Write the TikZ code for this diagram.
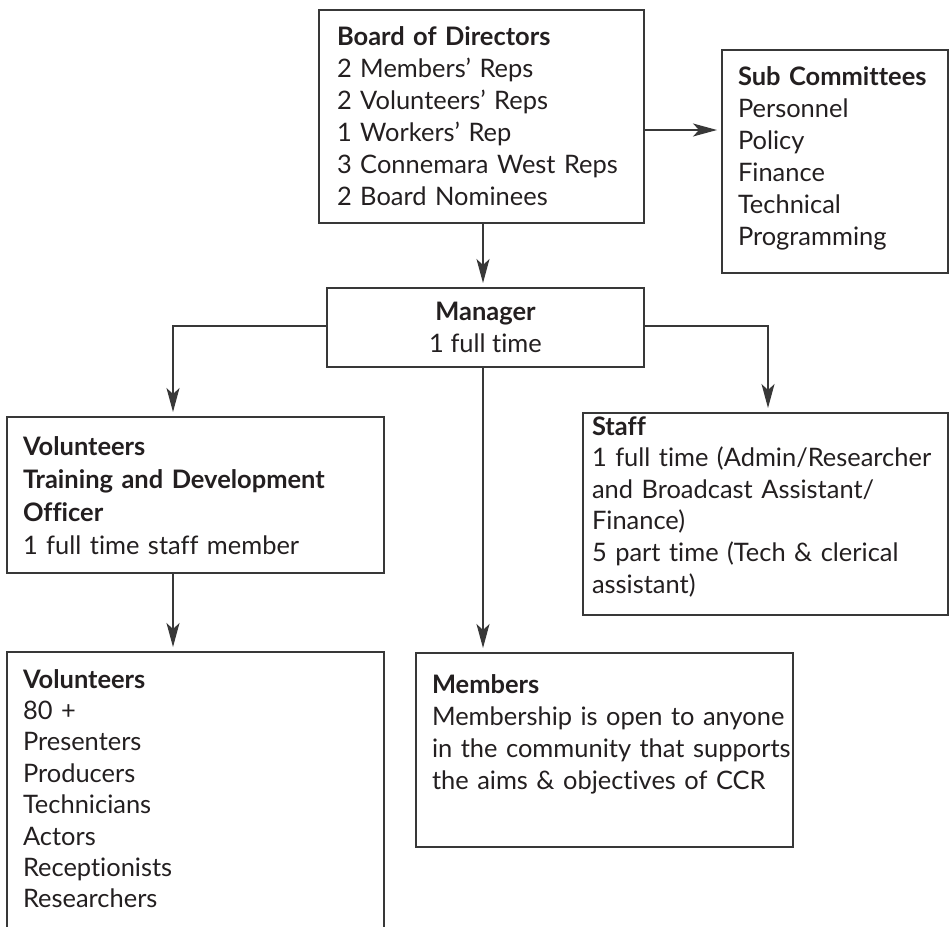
\documentclass[tikz,border=0pt]{standalone}
\usepackage{fontspec}
\setmainfont{Lato}[Ligatures=NoCommon]
\usetikzlibrary{arrows.meta}
\definecolor{linec}{HTML}{383838}
\definecolor{textc}{HTML}{231F20}
\newcommand{\firststrut}{\rule{0pt}{20pt}}
\newlength\reflen
\begin{document}
\settowidth\reflen{\fontsize{10pt}{12pt}\selectfont 3 Connemara West Reps}
\pgfmathsetmacro\fsz{10*275/\reflen}
\begin{tikzpicture}[x=1pt,y=-1pt,
  box/.style={draw=linec, line width=1.4pt, inner sep=0pt, outer sep=0pt, anchor=north west},
  txt/.style={anchor=north west, inner sep=0pt, outer sep=0pt, align=left, text width=420pt,
    text=textc, font=\fontsize{\fsz pt}{#1}\selectfont},
  txt/.default=32pt,
  conn/.style={draw=linec, line width=1.3pt},
  arr/.style={conn, shorten >=5pt, -{Stealth[length=24pt,width=13pt,inset=6pt]}}]
\clip (0,0) rectangle (949,926);
% boxes
\node[box, minimum width=325pt, minimum height=213pt] (board) at (319,10) {};
\node[box, minimum width=226pt, minimum height=223pt] (sub) at (722,50) {};
\node[box, minimum width=317pt, minimum height=79pt] (manager) at (327,288) {};
\node[box, minimum width=377pt, minimum height=156pt] (td) at (7,417) {};
\node[box, minimum width=365pt, minimum height=202pt] (staff) at (583,413) {};
\node[box, minimum width=377pt, minimum height=300pt] (vol) at (7,652) {};
\node[box, minimum width=377pt, minimum height=194pt] (members) at (416,653) {};
% texts
\node[txt] (boardt) at (337,25) {\firststrut\textbf{Board of Directors}\\
2 Members’ Reps\\2 Volunteers’ Reps\\1 Workers’ Rep\\3 Connemara West Reps\\2 Board Nominees};
\node[txt] (subt) at (738,65) {\firststrut\textbf{Sub Committees}\\
Personnel\\Policy\\Finance\\Technical\\Programming};
\node[anchor=north, inner sep=0pt, align=center, text=textc, font=\fontsize{\fsz pt}{32pt}\selectfont]
  (managert) at (485.5,300) {\firststrut\textbf{Manager}\\1 full time};
\node[txt=33pt] (tdt) at (23,435) {\firststrut\textbf{Volunteers}\\
\textbf{Training and Development}\\\textbf{Officer}\\1 full time staff member};
\node[txt=31.6pt] (stafft) at (592,415) {\firststrut\textbf{Staff}\\
1 full time (Admin/Researcher\\and Broadcast Assistant/\\Finance)\\5 part time (Tech \& clerical\\assistant)};
\node[txt=31.4pt] (volt) at (23,668) {\firststrut\textbf{Volunteers}\\
80 +\\Presenters\\Producers\\Technicians\\Actors\\Receptionists\\Researchers};
\node[txt] (memberst) at (432,673) {\firststrut\textbf{Members}\\
Membership is open to anyone\\in the community that supports\\the aims \& objectives of CCR};
% connectors
\draw[arr] ([xshift=1.5pt]board.south) -- ([xshift=1.5pt]board.south |- manager.north);
\draw[arr] ([yshift=-13.5pt]board.east) -- ([yshift=-13.5pt]board.east -| sub.west);
\draw[arr] ([yshift=1.5pt]manager.west) -| ([xshift=-22.5pt]td.north);
\draw[arr] ([yshift=1.5pt]manager.east) -| ([xshift=2.5pt]staff.north);
\draw[arr] ([xshift=-2.5pt]manager.south) -- ([xshift=-2.5pt]manager.south |- members.north);
\draw[arr] ([xshift=-22.5pt]td.south) -- ([xshift=-22.5pt]vol.north);
\end{tikzpicture}
\end{document}
